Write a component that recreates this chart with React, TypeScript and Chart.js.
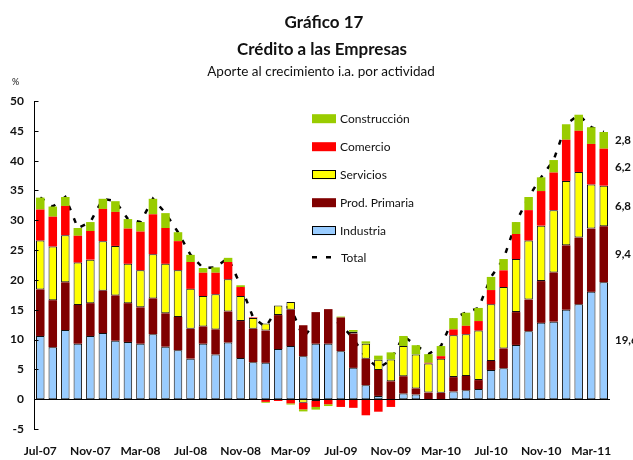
import React, { useEffect, useRef } from "react";
import { Chart, registerables } from "chart.js";

Chart.register(...registerables);

const FONT = 'Lato, "DejaVu Sans", sans-serif';

const months = [
  "Jul-07", "Ago-07", "Sep-07", "Oct-07", "Nov-07", "Dic-07",
  "Ene-08", "Feb-08", "Mar-08", "Abr-08", "May-08", "Jun-08",
  "Jul-08", "Ago-08", "Sep-08", "Oct-08", "Nov-08", "Dic-08",
  "Ene-09", "Feb-09", "Mar-09", "Abr-09", "May-09", "Jun-09",
  "Jul-09", "Ago-09", "Sep-09", "Oct-09", "Nov-09", "Dic-09",
  "Ene-10", "Feb-10", "Mar-10", "Abr-10", "May-10", "Jun-10",
  "Jul-10", "Ago-10", "Sep-10", "Oct-10", "Nov-10", "Dic-10",
  "Ene-11", "Feb-11", "Mar-11", "Abr-11",
];

const industria = [
  10.6, 8.7, 11.6, 9.3, 10.6, 11.1, 9.8, 9.6, 9.3, 10.9, 8.8, 8.2, 6.8, 9.3, 7.5,
  9.5, 6.9, 6.2, 6.1, 8.4, 8.9, 7.2, 9.3, 9.3, 8.05, 5.25, 2.35, 0.55, 0, 0.95,
  0.8, 0, 0, 1.3, 1.5, 1.7, 4.9, 5.2, 9.1, 11.4, 12.8, 13.0, 15.0, 15.9, 18.0, 19.6,
];

const prodPrimaria = [
  7.8, 7.9, 8.0, 6.5, 5.5, 7.1, 7.6, 6.5, 6.1, 6.0, 5.6, 5.6, 5.0, 2.9, 4.2,
  5.2, 6.2, 5.6, 5.4, 5.7, 6.1, 5.2, 5.3, 5.8, 5.65, 5.75, 4.45, 4.35, 3.0, 2.9,
  1.0, 1.1, 1.06, 2.4, 2.4, 1.5, 1.5, 3.3, 5.5, 5.3, 7.0, 8.25, 10.8, 11.2, 10.6, 9.4,
];

const servicios = [
  8.2, 9.0, 7.9, 7.1, 7.3, 8.3, 8.3, 6.6, 6.2, 7.4, 8.3, 7.8, 6.7, 5.1, 5.9,
  5.4, 4.2, 1.8, 1.2, 1.6, 1.3, -0.6, -0.3, 0, 0, 0.3, 2.5, 1.7, 3.65, 5.05,
  5.7, 4.9, 5.7, 7.0, 7.0, 8.3, 9.5, 10.3, 8.9, 9.9, 9.3, 10.45, 10.8, 11.0, 7.4, 6.8,
];

const comercio = [
  5.2, 5.0, 4.9, 4.5, 4.8, 5.4, 5.7, 5.9, 6.5, 6.7, 6.0, 4.9, 4.5, 3.9, 3.6,
  2.9, 1.5, 0.1, -0.45, -0.3, -0.7, -1.1, -1.0, -0.85, -1.3, -1.45, -2.7, -2.1, -1.3, 0,
  0, 0.1, 0.45, 1.0, 1.4, 1.6, 2.4, 2.8, 4.2, 5.1, 5.8, 6.3, 6.9, 6.9, 6.8, 6.2,
];

const construccion = [
  2.0, 1.7, 1.5, 1.3, 1.5, 1.7, 1.8, 1.6, 1.6, 2.6, 2.5, 1.5, 1.2, 0.8, 0.9,
  0.7, 0.3, 0, -0.15, 0, -0.2, -0.35, -0.45, -0.3, 0.15, 0.3, 0.4, 0.7, 1.2, 1.7,
  1.55, 1.45, 1.7, 1.9, 2.2, 2.2, 2.2, 1.9, 2.0, 2.2, 2.3, 2.1, 2.6, 2.7, 2.8, 2.8,
];

const total = [
  33.8, 32.3, 33.9, 28.7, 29.7, 33.6, 33.2, 30.2, 29.7, 33.6, 31.2, 28.0, 24.2, 22.0, 22.1,
  23.7, 19.1, 13.7, 12.1, 15.4, 15.4, 10.35, 12.85, 13.95, 12.55, 10.15, 7.0, 5.2, 6.55, 10.6,
  9.05, 7.55, 8.9, 13.6, 14.5, 15.3, 20.5, 23.5, 29.7, 33.9, 37.2, 40.1, 46.1, 47.7, 45.6, 44.8,
];

const yTicks = [-5, 0, 5, 10, 15, 20, 25, 30, 35, 40, 45, 50];

const titleLines = ["Gráfico 17", "Crédito a las Empresas"];
const subtitleText = "Aporte al crecimiento i.a. por actividad";

const COLORS = {
  industria: "#99CCFF",
  prod: "#800000",
  servicios: "#FFFF00",
  comercio: "#FF0000",
  construccion: "#99CC00",
};

const legendItems = [
  { label: "Construcción", color: COLORS.construccion, border: false },
  { label: "Comercio", color: COLORS.comercio, border: false },
  { label: "Servicios", color: COLORS.servicios, border: true },
  { label: "Prod. Primaria", color: COLORS.prod, border: false },
  { label: "Industria", color: COLORS.industria, border: true },
];

const decorPlugin = {
  id: "decor",
  afterDatasetsDraw(chart: any) {
    const { ctx, chartArea, scales } = chart;
    const y = scales.y;
    ctx.save();
    ctx.strokeStyle = "#000";
    ctx.lineWidth = 1;
    const y0 = Math.round(y.getPixelForValue(0)) + 0.5;
    ctx.beginPath();
    ctx.moveTo(chartArea.left, y0);
    ctx.lineTo(chartArea.right, y0);
    ctx.stroke();
    const lx = Math.round(chartArea.left) + 0.5;
    for (const v of yTicks) {
      const py = Math.round(y.getPixelForValue(v)) + 0.5;
      ctx.beginPath();
      ctx.moveTo(lx, py);
      ctx.lineTo(lx + 4, py);
      ctx.stroke();
    }
    ctx.restore();
  },
  afterDraw(chart: any) {
    const { ctx, scales, chartArea } = chart;
    const y = scales.y;
    ctx.save();
    ctx.fillStyle = "#111";
    ctx.textAlign = "center";
    ctx.textBaseline = "alphabetic";
    ctx.font = `bold 17px ${FONT}`;
    ctx.fillText(titleLines[0], 324, 28);
    ctx.fillText(titleLines[1], 322, 55);
    ctx.font = `13.5px ${FONT}`;
    ctx.fillText(subtitleText, 321, 76);
    ctx.font = `9px ${FONT}`;
    ctx.fillText("%", 15.5, 85);

    const lgX = 312;
    const lgY0 = 118.7;
    const step = 28;
    ctx.textAlign = "left";
    ctx.textBaseline = "middle";
    ctx.font = `12px ${FONT}`;
    legendItems.forEach((it, i) => {
      const cy = lgY0 + i * step;
      ctx.fillStyle = it.color;
      ctx.fillRect(lgX, cy - 4.5, 24, 9);
      if (it.border) {
        ctx.strokeStyle = "#000";
        ctx.lineWidth = 1;
        ctx.strokeRect(lgX + 0.5, Math.round(cy - 4.5) + 0.5, 23, 8);
      }
      ctx.fillStyle = "#111";
      ctx.fillText(it.label, 340, cy + 0.5);
    });
    const ty = lgY0 + 5 * step - 1.5;
    ctx.strokeStyle = "#000";
    ctx.lineWidth = 2.5;
    ctx.beginPath();
    ctx.moveTo(312, ty);
    ctx.lineTo(317, ty);
    ctx.moveTo(326, ty);
    ctx.lineTo(331, ty);
    ctx.stroke();
    ctx.fillStyle = "#111";
    ctx.fillText("Total", 341, ty + 0.5);

    const last = months.length - 1;
    const parts = [industria[last], prodPrimaria[last], servicios[last], comercio[last], construccion[last]];
    let acc = 0;
    ctx.font = `bold 11.5px ${FONT}`;
    ctx.textAlign = "left";
    parts.forEach((v) => {
      const mid = acc + v / 2;
      acc += v;
      const py = y.getPixelForValue(mid);
      ctx.fillText(v.toFixed(1).replace(".", ","), chartArea.right + 5, py);
    });
    ctx.restore();
  },
};

export default function App() {
  const ref = useRef<HTMLCanvasElement | null>(null);

  useEffect(() => {
    document.body.style.margin = "0";
    const canvas = ref.current;
    if (!canvas) return;
    const barCommon = {
      type: "bar" as const,
      stack: "a",
      order: 1,
      barPercentage: 0.68,
      categoryPercentage: 1,
    };
    const chart = new Chart(canvas, {
      type: "bar",
      data: {
        labels: months,
        datasets: [
          {
            ...barCommon,
            label: "Industria",
            data: industria,
            backgroundColor: COLORS.industria,
            borderColor: "#111",
            borderWidth: 1,
            borderSkipped: false,
          },
          {
            ...barCommon,
            label: "Prod. Primaria",
            data: prodPrimaria,
            backgroundColor: COLORS.prod,
            borderWidth: 0,
          },
          {
            ...barCommon,
            label: "Servicios",
            data: servicios,
            backgroundColor: COLORS.servicios,
            borderColor: "#111",
            borderWidth: 1,
            borderSkipped: false,
          },
          {
            ...barCommon,
            label: "Comercio",
            data: comercio,
            backgroundColor: COLORS.comercio,
            borderWidth: 0,
          },
          {
            ...barCommon,
            label: "Construcción",
            data: construccion,
            backgroundColor: COLORS.construccion,
            borderWidth: 0,
          },
          {
            type: "line" as const,
            label: "Total",
            data: total,
            stack: "total",
            order: 2,
            borderColor: "#000",
            borderWidth: 2.5,
            borderDash: [5, 8.5],
            pointRadius: 0,
            fill: false,
            tension: 0,
          } as any,
        ],
      },
      options: {
        responsive: false,
        maintainAspectRatio: false,
        animation: false,
        layout: { padding: { left: 0, right: 23, top: 101, bottom: 0 } },
        plugins: {
          legend: { display: false },
          title: { display: false },
          tooltip: { enabled: false },
        },
        scales: {
          x: {
            stacked: true,
            grid: { display: false, drawTicks: false },
            border: { display: false },
            ticks: {
              autoSkip: false,
              maxRotation: 0,
              minRotation: 0,
              padding: 15,
              color: "#111",
              font: { family: FONT, size: 12, weight: "bold" },
              callback: (_v: any, i: number) => (i % 4 === 0 ? months[i] : ""),
            },
            afterFit: (scale: any) => {
              scale.height = 31;
            },
          },
          y: {
            stacked: true,
            min: -5,
            max: 50,
            grid: { display: false, drawTicks: false },
            border: { display: true, color: "#000", width: 1 },
            ticks: {
              stepSize: 5,
              padding: 10,
              color: "#111",
              font: { family: FONT, size: 12, weight: "bold" },
            },
            afterFit: (scale: any) => {
              scale.width = 34;
            },
          },
        },
      },
      plugins: [decorPlugin],
    } as any);
    return () => chart.destroy();
  }, []);

  return (
    <div style={{ width: 633, height: 460, background: "#fff" }}>
      <canvas ref={ref} width={633} height={460} style={{ display: "block" }} />
    </div>
  );
}
